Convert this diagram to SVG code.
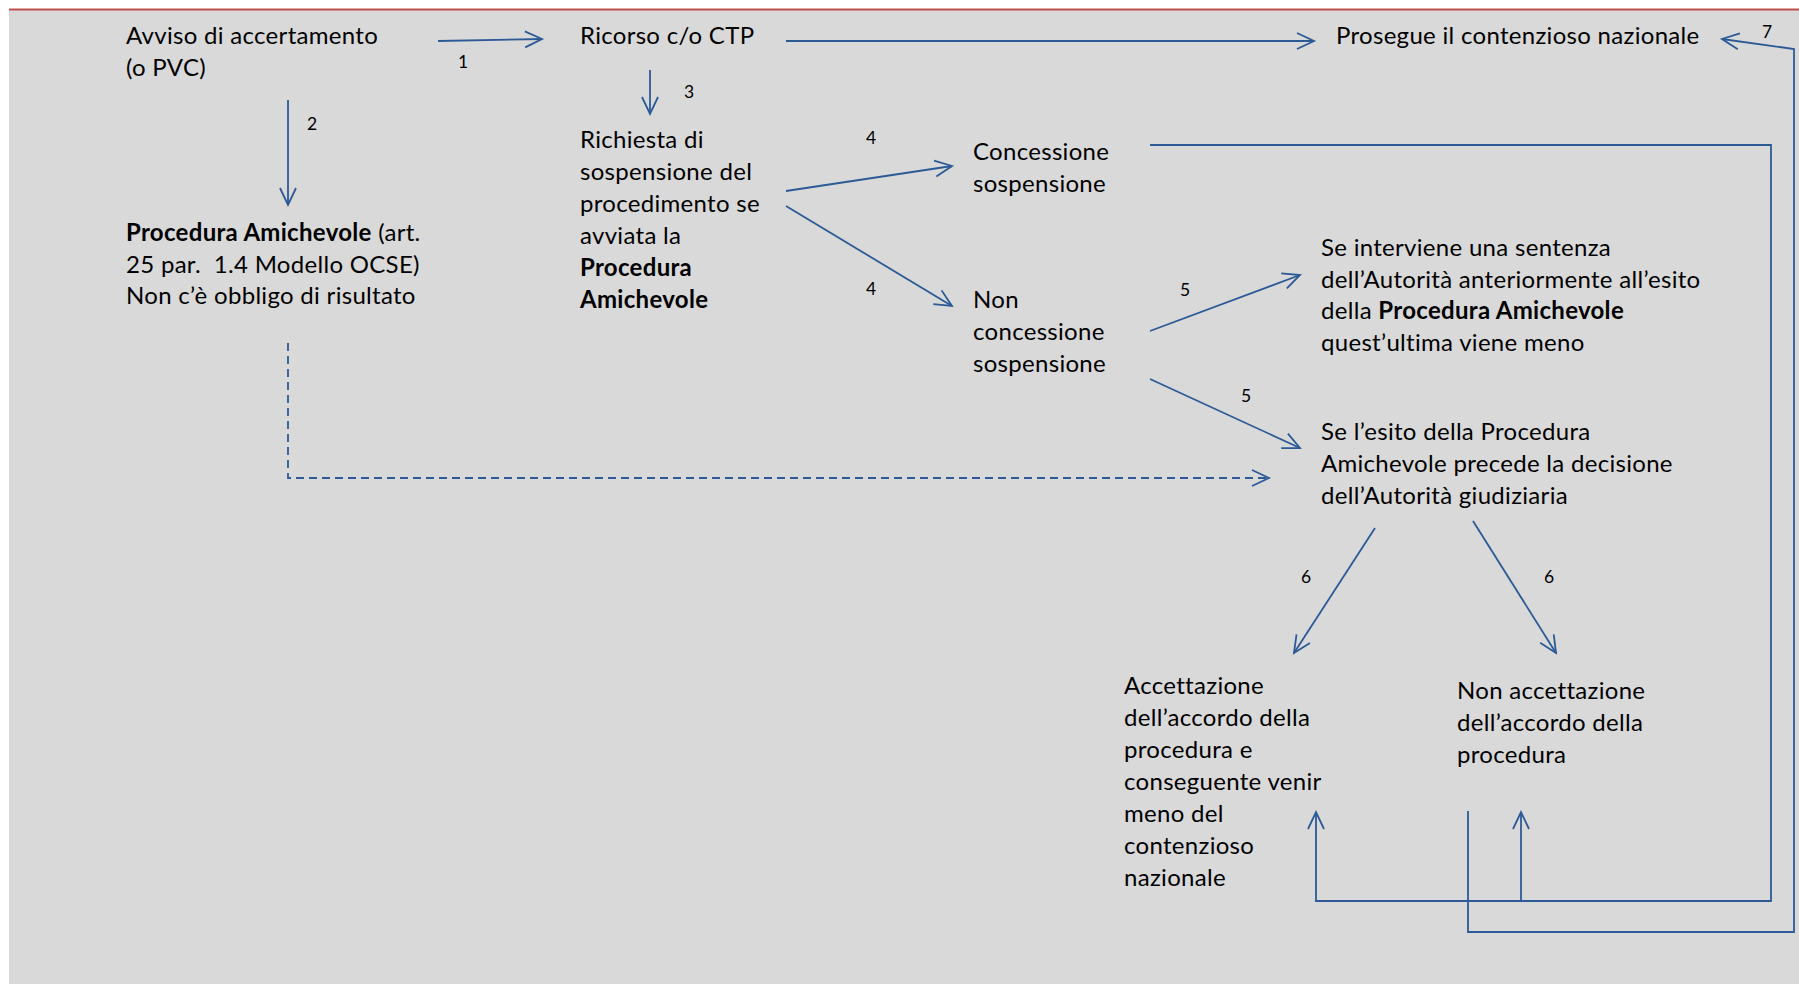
<svg xmlns="http://www.w3.org/2000/svg" width="1799" height="984" viewBox="0 0 1799 984">
<style>
.t{font-family:Lato,"Liberation Sans",sans-serif;font-size:24px;letter-spacing:0.3px;fill:#000}
.b{font-weight:bold}
.n{font-family:Lato,"Liberation Sans",sans-serif;font-size:17.5px;fill:#000}
.c{stroke:#2C5A96;stroke-width:1.8;fill:none}
.d{stroke-dasharray:8 5}
</style>
<defs>
<marker id="ah" markerUnits="userSpaceOnUse" markerWidth="24" markerHeight="24" viewBox="-20 -10 24 20" refX="0" refY="0" orient="auto">
<path d="M-17,-8 L0,0 L-17,8" fill="none" stroke="#2C5A96" stroke-width="1.8"/>
</marker>
</defs>
<rect x="0" y="0" width="1799" height="984" fill="#fff"/>
<rect x="9" y="10" width="1790" height="974" fill="#D9D9D9"/>
<line x1="9" y1="9.5" x2="1799" y2="9.5" stroke="#C0504D" stroke-width="2"/>

<g id="connectors">
<line class="c" x1="438" y1="41" x2="542" y2="39" marker-end="url(#ah)"/>
<line class="c" x1="786" y1="41" x2="1314" y2="41" marker-end="url(#ah)"/>
<line class="c" x1="650" y1="70" x2="650" y2="114" marker-end="url(#ah)"/>
<line class="c" x1="288" y1="100" x2="288" y2="205" marker-end="url(#ah)"/>
<line class="c" x1="786" y1="191" x2="952" y2="166" marker-end="url(#ah)"/>
<line class="c" x1="786" y1="206" x2="952" y2="306" marker-end="url(#ah)"/>
<line class="c" x1="1150" y1="331" x2="1300" y2="275" marker-end="url(#ah)"/>
<line class="c" x1="1150" y1="379" x2="1300" y2="448" marker-end="url(#ah)"/>
<polyline class="c d" points="288,343 288,478 1269,478" marker-end="url(#ah)"/>
<line class="c" x1="1375" y1="528" x2="1294" y2="653" marker-end="url(#ah)"/>
<line class="c" x1="1473" y1="521" x2="1556" y2="653" marker-end="url(#ah)"/>
<polyline class="c" points="1150,145 1771,145 1771,901 1316,901 1316,812" marker-end="url(#ah)"/>
<line class="c" x1="1521" y1="901" x2="1521" y2="812" marker-end="url(#ah)"/>
<polyline class="c" points="1468,811 1468,932 1794,932 1794,49 1722,39" marker-end="url(#ah)"/>
<text class="n" x="458" y="68">1</text>
<text class="n" x="307" y="130">2</text>
<text class="n" x="684" y="98">3</text>
<text class="n" x="866" y="144">4</text>
<text class="n" x="866" y="295">4</text>
<text class="n" x="1180" y="296">5</text>
<text class="n" x="1241" y="402">5</text>
<text class="n" x="1301" y="583">6</text>
<text class="n" x="1544" y="583">6</text>
<text class="n" x="1762" y="38">7</text>
</g>

<g id="avviso">
<text class="t" x="126" y="44">Avviso di accertamento</text>
<text class="t" x="126" y="76">(o PVC)</text>
</g>
<g id="ricorso">
<text class="t" x="580" y="44">Ricorso c/o CTP</text>
</g>
<g id="prosegue">
<text class="t" x="1336" y="44">Prosegue il contenzioso nazionale</text>
</g>
<g id="procedura">
<text class="t" x="126" y="241"><tspan class="b">Procedura Amichevole</tspan> (art.</text>
<text class="t" x="126" y="273">25 par. &#160;1.4 Modello OCSE)</text>
<text class="t" x="126" y="304">Non c’è obbligo di risultato</text>
</g>
<g id="richiesta">
<text class="t" x="580" y="148">Richiesta di</text>
<text class="t" x="580" y="180">sospensione del</text>
<text class="t" x="580" y="212">procedimento se</text>
<text class="t" x="580" y="244">avviata la</text>
<text class="t b" x="580" y="276">Procedura</text>
<text class="t b" x="580" y="308">Amichevole</text>
</g>
<g id="concessione">
<text class="t" x="973" y="160">Concessione</text>
<text class="t" x="973" y="192">sospensione</text>
</g>
<g id="nonconcessione">
<text class="t" x="973" y="308">Non</text>
<text class="t" x="973" y="340">concessione</text>
<text class="t" x="973" y="372">sospensione</text>
</g>
<g id="sentenza">
<text class="t" x="1321" y="256">Se interviene una sentenza</text>
<text class="t" x="1321" y="288">dell’Autorità anteriormente all’esito</text>
<text class="t" x="1321" y="319">della <tspan class="b">Procedura Amichevole</tspan></text>
<text class="t" x="1321" y="351">quest’ultima viene meno</text>
</g>
<g id="esito">
<text class="t" x="1321" y="440">Se l’esito della Procedura</text>
<text class="t" x="1321" y="472">Amichevole precede la decisione</text>
<text class="t" x="1321" y="504">dell’Autorità giudiziaria</text>
</g>
<g id="accettazione">
<text class="t" x="1124" y="694">Accettazione</text>
<text class="t" x="1124" y="726">dell’accordo della</text>
<text class="t" x="1124" y="758">procedura e</text>
<text class="t" x="1124" y="790">conseguente venir</text>
<text class="t" x="1124" y="822">meno del</text>
<text class="t" x="1124" y="854">contenzioso</text>
<text class="t" x="1124" y="886">nazionale</text>
</g>
<g id="nonaccettazione">
<text class="t" x="1457" y="699">Non accettazione</text>
<text class="t" x="1457" y="731">dell’accordo della</text>
<text class="t" x="1457" y="763">procedura</text>
</g>
</svg>
